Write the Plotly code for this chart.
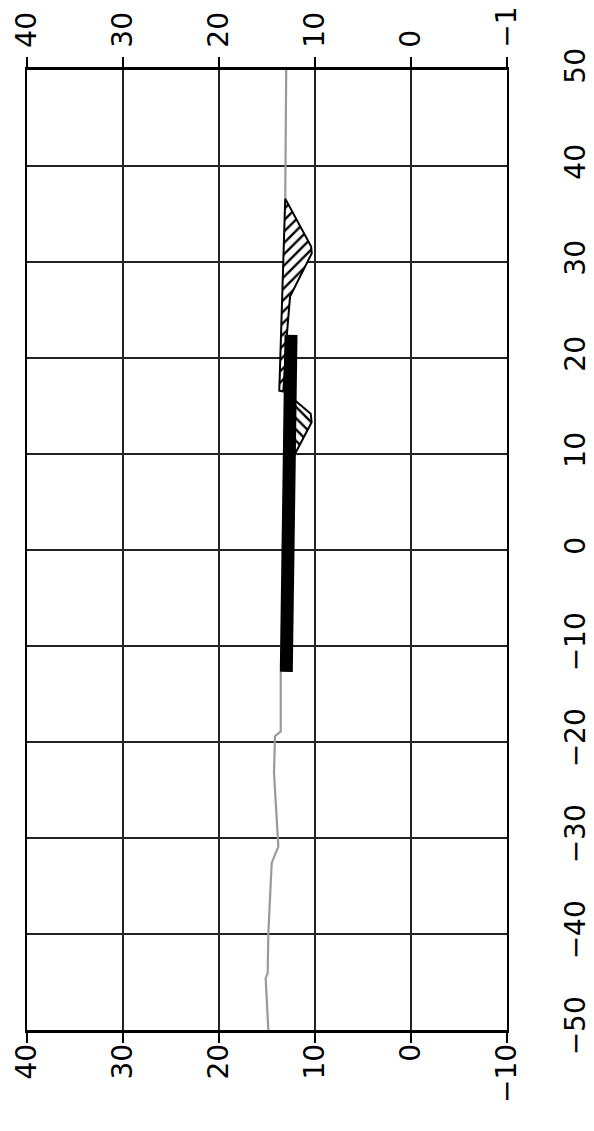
import plotly.graph_objects as go

# axis ticks
x_ticks = [40, 30, 20, 10, 0, -10]
y_ticks = [50, 40, 30, 20, 10, 0, -10, -20, -30, -40, -50]

# upper grey profile
grey_up_x = [13.0, 13.1]
grey_up_y = [50, 36.6]

# lower grey profile
grey_lo_x = [13.57, 13.57, 14.17, 14.27, 13.82, 14.51, 14.86, 14.93, 15.14, 14.86]
grey_lo_y = [-12.7, -18.9, -19.4, -23.2, -30.9, -32.6, -39.9, -44.1, -44.6, -50]

# upper hatched region ("/" hatch)
hatch1_x = [13.1, 10.4, 10.34, 12.6, 12.95, 13.3, 13.72, 13.1]
hatch1_y = [36.6, 31.6, 30.9, 26.4, 22.2, 16.5, 16.6, 36.6]

# lower hatched region ("\" hatch)
hatch2_x = [12.5, 12.1, 10.45, 10.35, 12.2, 12.5, 12.5]
hatch2_y = [15.6, 15.6, 14.2, 13.3, 9.8, 9.8, 15.6]

# thick black bar
bar_x = [12.5, 12.99]
bar_y = [22.4, -12.7]

fig = go.Figure()

fig.add_trace(go.Scatter(x=grey_up_x, y=grey_up_y, mode="lines",
                         line=dict(color="#9a9a9a", width=2.2), showlegend=False))
fig.add_trace(go.Scatter(x=grey_lo_x, y=grey_lo_y, mode="lines",
                         line=dict(color="#9a9a9a", width=2.2), showlegend=False))
fig.add_trace(go.Scatter(x=hatch1_x, y=hatch1_y, mode="lines", fill="toself",
                         fillcolor="white",
                         fillpattern=dict(shape="/", size=8, solidity=0.3,
                                          fgcolor="black", fgopacity=1,
                                          bgcolor="white"),
                         line=dict(color="black", width=2), showlegend=False))
fig.add_trace(go.Scatter(x=hatch2_x, y=hatch2_y, mode="lines", fill="toself",
                         fillcolor="white",
                         fillpattern=dict(shape="\\", size=8, solidity=0.3,
                                          fgcolor="black", fgopacity=1,
                                          bgcolor="white"),
                         line=dict(color="black", width=2), showlegend=False))
fig.add_trace(go.Scatter(x=bar_x, y=bar_y, mode="lines",
                         line=dict(color="black", width=13), showlegend=False))
# invisible trace to activate top axis
fig.add_trace(go.Scatter(x=[10], y=[0], xaxis="x2", mode="markers",
                         marker=dict(opacity=0), showlegend=False, hoverinfo="skip"))

font = dict(family="DejaVu Sans", size=28, color="black")

common_x = dict(range=[40, -10], tickmode="array", tickvals=x_ticks,
                ticks="outside", ticklen=10, tickwidth=2, tickcolor="black",
                tickangle=-90, tickfont=font, showline=True, linecolor="black",
                linewidth=2.5, zeroline=False, automargin=False)

fig.update_layout(
    width=586, height=1115,
    margin=dict(l=19, r=87, t=62, b=93),
    paper_bgcolor="white", plot_bgcolor="white",
    xaxis=dict(**common_x, side="bottom", showgrid=True, gridcolor="#222222",
               gridwidth=2, mirror=True, ticklabelstandoff=-10),
    xaxis2=dict(**common_x, side="top", overlaying="x", showgrid=False,
                ticklabelstandoff=4),
    yaxis=dict(range=[-50, 50], tickmode="array", tickvals=y_ticks,
               side="right", ticks="", tickangle=-90, tickfont=font,
               ticklabelstandoff=42, automargin=False,
               showline=True, linecolor="black", linewidth=2, mirror=True,
               showgrid=True, gridcolor="#222222", gridwidth=2, zeroline=False),
)

fig.write_html("out.html")
